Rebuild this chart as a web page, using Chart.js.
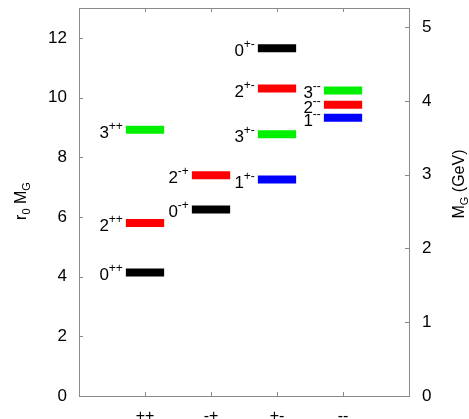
<!DOCTYPE html>
<html>
<head>
<meta charset="utf-8">
<script src="https://cdn.jsdelivr.net/npm/chart.js@4"></script>
<style>
    body { margin: 0; background: #fff; }
    #wrap { width: 469px; height: 419px; position: relative; }
</style>
</head>
<body>
<div id="wrap"><canvas id="spectrum"></canvas></div>
<script>
(function () {
    // PC channels on the x axis
    const channels = ['++', '-+', '+-', '--'];
    const channelPos = [1, 2, 3, 4];

    // glueball levels: spin, channel index, r0*MG
    const levelSpin = ['0', '2', '3', '0', '2', '0', '2', '3', '1', '3', '2', '1'];
    const levelChannel = [0, 0, 0, 1, 1, 2, 2, 2, 2, 3, 3, 3];
    const levelValue = [4.14, 5.80, 8.92, 6.25, 7.40, 11.65, 10.30, 8.77, 7.25, 10.24, 9.76, 9.32];

    const leftTicks = [0, 2, 4, 6, 8, 10, 12];
    const rightTicks = [0, 1, 2, 3, 4, 5];
    const leftMax = 13;
    const gevMax = 5.26;

    const spinColor = { '0': '#000000', '1': '#0000ff', '2': '#ff0000', '3': '#00f000' };
    const HALF = 0.29;
    const FONT = '"Liberation Sans", Arial, sans-serif';
    const AXIS = '#8a8a8a';

    const datasets = levelValue.map((v, i) => {
        const c = channelPos[levelChannel[i]];
        return {
            data: [{ x: c - HALF, y: v }, { x: c + HALF, y: v }],
            borderColor: spinColor[levelSpin[i]],
            borderWidth: 8,
            borderCapStyle: 'butt',
            pointRadius: 0,
            yAxisID: 'y'
        };
    });

    const noPadV = (s) => { s.paddingTop = 0; s.paddingBottom = 0; };

    const decorations = {
        id: 'decorations',
        afterDraw(chart) {
            const { ctx, chartArea: a, scales } = chart;
            const xs = scales.x, ys = scales.y, y2 = scales.y2;
            ctx.save();

            // frame + inward ticks
            ctx.strokeStyle = AXIS;
            ctx.lineWidth = 1;
            ctx.strokeRect(Math.round(a.left) + 0.5, Math.round(a.top) + 0.5,
                Math.round(a.right - a.left), Math.round(a.bottom - a.top));
            ctx.beginPath();
            leftTicks.forEach((t) => {
                const py = Math.round(ys.getPixelForValue(t)) + 0.5;
                ctx.moveTo(a.left, py); ctx.lineTo(a.left + 4, py);
            });
            rightTicks.forEach((t) => {
                const py = Math.round(y2.getPixelForValue(t)) + 0.5;
                ctx.moveTo(a.right, py); ctx.lineTo(a.right - 4, py);
            });
            channelPos.forEach((c) => {
                const px = Math.round(xs.getPixelForValue(c)) + 0.5;
                ctx.moveTo(px, a.bottom); ctx.lineTo(px, a.bottom - 4);
                ctx.moveTo(px, a.top); ctx.lineTo(px, a.top + 4);
            });
            ctx.stroke();

            // level labels, e.g. 2^{-+}
            ctx.fillStyle = '#000';
            ctx.textAlign = 'right';
            ctx.textBaseline = 'alphabetic';
            levelValue.forEach((v, i) => {
                const x0 = xs.getPixelForValue(channelPos[levelChannel[i]] - HALF) - 3;
                const py = ys.getPixelForValue(v);
                const sup = channels[levelChannel[i]];
                ctx.font = '12px ' + FONT;
                const w = ctx.measureText(sup).width;
                ctx.fillText(sup, x0, py);
                ctx.font = '17px ' + FONT;
                ctx.fillText(levelSpin[i], x0 - w, py + 8);
            });

            // rotated axis titles with subscripts
            const drawTitle = (parts, cx, cy) => {
                let total = 0;
                parts.forEach((p) => {
                    ctx.font = (p.sub ? '11px ' : '16px ') + FONT;
                    p.w = ctx.measureText(p.t).width;
                    total += p.w;
                });
                ctx.save();
                ctx.translate(cx, cy);
                ctx.rotate(-Math.PI / 2);
                ctx.textAlign = 'left';
                let x = -total / 2;
                parts.forEach((p) => {
                    ctx.font = (p.sub ? '11px ' : '16px ') + FONT;
                    ctx.fillText(p.t, x, p.sub ? 4 : 0);
                    x += p.w;
                });
                ctx.restore();
            };
            drawTitle([{ t: 'r' }, { t: '0', sub: true }, { t: ' M' }, { t: 'G', sub: true }], 26, 201);
            drawTitle([{ t: 'M' }, { t: 'G', sub: true }, { t: ' (GeV)' }], 464, 184);

            ctx.restore();
        }
    };

    new Chart(document.getElementById('spectrum'), {
        type: 'line',
        data: { datasets },
        options: {
            responsive: true,
            maintainAspectRatio: false,
            animation: false,
            layout: { padding: { top: 8, left: 0, right: 0, bottom: 0 } },
            plugins: { legend: { display: false }, tooltip: { enabled: false } },
            scales: {
                x: {
                    type: 'linear',
                    min: 0,
                    max: 5,
                    afterBuildTicks: (s) => { s.ticks = channelPos.map((v) => ({ value: v })); },
                    afterFit: (s) => { s.height = 23; s.paddingLeft = 0; s.paddingRight = 0; },
                    ticks: {
                        callback: (v) => channels[channelPos.indexOf(v)],
                        color: '#000',
                        font: { family: FONT, size: 16 },
                        padding: 11,
                        maxRotation: 0
                    },
                    grid: { display: false, drawTicks: false },
                    border: { display: false }
                },
                y: {
                    position: 'left',
                    min: 0,
                    max: leftMax,
                    afterBuildTicks: (s) => { s.ticks = leftTicks.map((v) => ({ value: v })); },
                    afterFit: (s) => { s.width = 79; noPadV(s); },
                    ticks: { color: '#000', font: { family: FONT, size: 17 }, padding: 12 },
                    grid: { display: false, drawTicks: false },
                    border: { display: false }
                },
                y2: {
                    position: 'right',
                    min: 0,
                    max: gevMax,
                    afterBuildTicks: (s) => { s.ticks = rightTicks.map((v) => ({ value: v })); },
                    afterFit: (s) => { s.width = 60; noPadV(s); },
                    ticks: { color: '#000', font: { family: FONT, size: 17 }, padding: 13 },
                    grid: { display: false, drawTicks: false },
                    border: { display: false }
                }
            }
        },
        plugins: [decorations]
    });
})();
</script>
</body>
</html>
